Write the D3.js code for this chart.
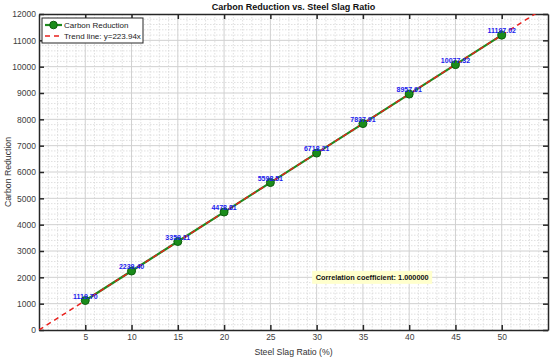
<!DOCTYPE html>
<html>
<head>
<meta charset="utf-8">
<script src="https://cdn.jsdelivr.net/npm/d3@7"></script>
<style>
  body { margin: 0; background: #fff; }
  svg { font-family: "Liberation Sans", Arial, sans-serif; }
</style>
</head>
<body>
<div id="chart"></div>
<script>
// data
const ratios = [5, 10, 15, 20, 25, 30, 35, 40, 45, 50];
const reductions = [1119.70, 2239.40, 3359.11, 4478.81, 5598.51, 6718.21, 7837.91, 8957.61, 10077.32, 11197.02];
const slope = 223.94;
const xTicks = [5, 10, 15, 20, 25, 30, 35, 40, 45, 50];
const yTicks = [0, 1000, 2000, 3000, 4000, 5000, 6000, 7000, 8000, 9000, 10000, 11000, 12000];
const corrText = "Correlation coefficient: 1.000000";

const width = 550, height = 360;
const margin = { left: 39, right: 2, top: 14, bottom: 30 };
const innerW = width - margin.left - margin.right;
const innerH = height - margin.top - margin.bottom;

const svg = d3.select("#chart").append("svg")
  .attr("width", width)
  .attr("height", height);

const g = svg.append("g").attr("transform", `translate(${margin.left},${margin.top})`);

const x = d3.scaleLinear().domain([0, 55]).range([0, innerW]);
const y = d3.scaleLinear().domain([0, 12000]).range([innerH, 0]);

// clip
svg.append("defs").append("clipPath").attr("id", "clip")
  .append("rect").attr("width", innerW).attr("height", innerH);

// minor grid
const xMinor = d3.range(1, 55, 1).filter(v => v % 5 !== 0);
const yMinor = d3.range(200, 12000, 200).filter(v => v % 1000 !== 0);
g.append("g").selectAll("line").data(xMinor).join("line")
  .attr("x1", d => x(d)).attr("x2", d => x(d))
  .attr("y1", 0).attr("y2", innerH)
  .attr("stroke", "#d8d8d8").attr("stroke-width", 0.8).attr("stroke-dasharray", "1.5,1.5");
g.append("g").selectAll("line").data(yMinor).join("line")
  .attr("x1", 0).attr("x2", innerW)
  .attr("y1", d => y(d)).attr("y2", d => y(d))
  .attr("stroke", "#d8d8d8").attr("stroke-width", 0.8).attr("stroke-dasharray", "1.5,1.5");

// major grid
g.append("g").selectAll("line").data(xTicks).join("line")
  .attr("x1", d => x(d)).attr("x2", d => x(d))
  .attr("y1", 0).attr("y2", innerH)
  .attr("stroke", "#d0d0d0").attr("stroke-width", 1);
g.append("g").selectAll("line").data(yTicks.slice(1, -1)).join("line")
  .attr("x1", 0).attr("x2", innerW)
  .attr("y1", d => y(d)).attr("y2", d => y(d))
  .attr("stroke", "#d0d0d0").attr("stroke-width", 1);

// axes (ticks inward)
const axisStyle = sel => {
  sel.select(".domain").attr("stroke", "#262626").attr("stroke-width", 1.5);
  sel.selectAll(".tick line").attr("stroke", "#262626").attr("stroke-width", 1.5);
  sel.selectAll(".tick text").attr("fill", "#404040").attr("font-size", 8.5);
};
g.append("g").attr("transform", `translate(0,${innerH})`)
  .call(d3.axisBottom(x).tickValues(xTicks).tickSizeInner(-5).tickSizeOuter(0).tickPadding(4))
  .call(axisStyle);
g.append("g")
  .call(d3.axisLeft(y).tickValues(yTicks).tickSizeInner(-5).tickSizeOuter(0).tickPadding(3).tickFormat(d3.format("d")))
  .call(axisStyle);
g.append("g")
  .call(d3.axisTop(x).tickValues(xTicks).tickSizeInner(-5).tickSizeOuter(0).tickFormat(""))
  .call(axisStyle);
g.append("g").attr("transform", `translate(${innerW},0)`)
  .call(d3.axisRight(y).tickValues(yTicks).tickSizeInner(-5).tickSizeOuter(0).tickFormat(""))
  .call(axisStyle);

// data line
g.append("path").datum(reductions)
  .attr("fill", "none").attr("stroke", "#1e8a1e").attr("stroke-width", 2.2)
  .attr("d", d3.line().x((d, i) => x(ratios[i])).y(d => y(d)));

// trend line
g.append("path").datum([0, 55])
  .attr("clip-path", "url(#clip)")
  .attr("fill", "none").attr("stroke", "#e8201c").attr("stroke-width", 1.5)
  .attr("stroke-dasharray", "5,4")
  .attr("d", d3.line().x(d => x(d)).y(d => y(d * slope)));

// markers
g.append("g").selectAll("circle").data(reductions).join("circle")
  .attr("cx", (d, i) => x(ratios[i])).attr("cy", d => y(d))
  .attr("r", 4)
  .attr("fill", "#1a8c1a").attr("stroke", "#0d5e0d").attr("stroke-width", 1);

// value labels
g.append("g").selectAll("text").data(reductions).join("text")
  .attr("x", (d, i) => x(ratios[i])).attr("y", d => y(d) - 2)
  .attr("text-anchor", "middle")
  .attr("font-size", 7).attr("font-weight", "bold").attr("fill", "#1a1aee")
  .text(d => d.toFixed(2));

// correlation box
const cb = g.append("g").attr("transform", `translate(${x(36)},${y(2000)})`);
cb.append("rect").attr("x", -60).attr("y", -6.5).attr("width", 120).attr("height", 13)
  .attr("fill", "#ffffcc");
cb.append("text").attr("text-anchor", "middle").attr("dy", "0.35em")
  .attr("font-size", 8).attr("font-weight", "bold").attr("fill", "#111")
  .attr("textLength", 113).attr("lengthAdjust", "spacingAndGlyphs")
  .text(corrText);

// legend
const lg = svg.append("g").attr("transform", "translate(42,18)");
lg.append("rect").attr("width", 101).attr("height", 25)
  .attr("fill", "#fff").attr("stroke", "#262626").attr("stroke-width", 1);
lg.append("line").attr("x1", 3).attr("x2", 20).attr("y1", 7).attr("y2", 7)
  .attr("stroke", "#1e8a1e").attr("stroke-width", 2.2);
lg.append("circle").attr("cx", 11.5).attr("cy", 7).attr("r", 3.8)
  .attr("fill", "#1a8c1a").attr("stroke", "#0d5e0d");
lg.append("text").attr("x", 22).attr("y", 7).attr("dy", "0.35em")
  .attr("font-size", 8).attr("fill", "#222").text("Carbon Reduction");
lg.append("line").attr("x1", 3).attr("x2", 20).attr("y1", 18).attr("y2", 18)
  .attr("stroke", "#e8201c").attr("stroke-width", 1.5).attr("stroke-dasharray", "5,4");
lg.append("text").attr("x", 22).attr("y", 18).attr("dy", "0.35em")
  .attr("font-size", 8).attr("fill", "#222").text("Trend line: y=" + slope + "x");

// title and axis labels
svg.append("text").attr("x", margin.left + innerW / 2).attr("y", 10)
  .attr("text-anchor", "middle").attr("font-size", 9).attr("font-weight", "bold")
  .attr("fill", "#111").text("Carbon Reduction vs. Steel Slag Ratio");
svg.append("text").attr("x", margin.left + innerW / 2).attr("y", 355)
  .attr("text-anchor", "middle").attr("font-size", 8.7).attr("fill", "#333")
  .text("Steel Slag Ratio (%)");
svg.append("text")
  .attr("transform", `translate(11,${margin.top + innerH / 2}) rotate(-90)`)
  .attr("text-anchor", "middle").attr("font-size", 8.7).attr("fill", "#333")
  .text("Carbon Reduction");
</script>
</body>
</html>
